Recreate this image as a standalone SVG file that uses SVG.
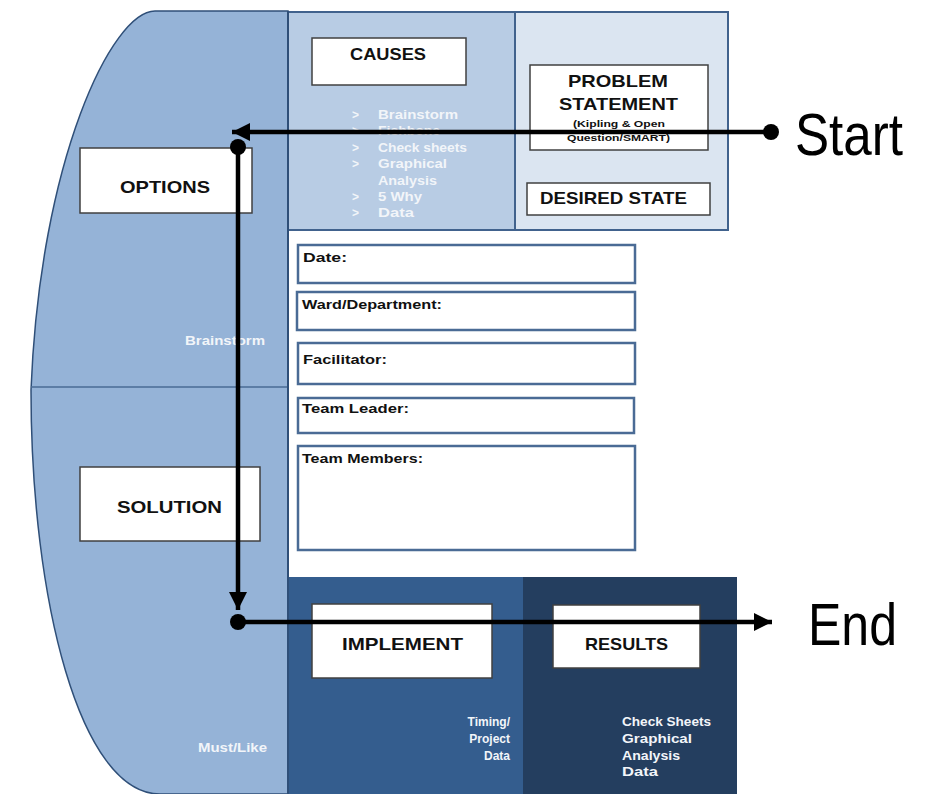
<svg xmlns="http://www.w3.org/2000/svg" width="926" height="794" viewBox="0 0 926 794">
<defs>
<style>
.lbl{font-family:"Liberation Sans",Arial,sans-serif;font-weight:bold;fill:#111;}
.big{font-size:17px;}
.wt{font-family:"Liberation Sans",Arial,sans-serif;font-weight:bold;fill:#f2f5f9;font-size:12px;}
.frm{font-family:"Liberation Sans",Arial,sans-serif;font-weight:bold;fill:#111;font-size:13px;}
.box{fill:#fff;stroke:#404040;stroke-width:1.5;}
.fbox{fill:#fff;stroke:#4a6b95;stroke-width:2.5;}
.pnl{stroke:#41628d;stroke-width:2;}
.con{stroke:#000;stroke-width:4.5;fill:none;}
.big2{font-family:"Liberation Sans",Arial,sans-serif;font-size:60px;fill:#000;}
</style>
<marker id="arr" markerUnits="userSpaceOnUse" markerWidth="20" markerHeight="18" refX="18" refY="9" orient="auto">
<path d="M0,0 L18,9 L0,18 Z" fill="#000"/>
</marker>
<marker id="dot" markerUnits="userSpaceOnUse" markerWidth="18" markerHeight="18" refX="9" refY="9" orient="auto">
<circle cx="9" cy="9" r="8" fill="#000"/>
</marker>
</defs>
<rect width="926" height="794" fill="#fff"/>

<g id="left-panel">
<path d="M155 11 C112 11 40 160 31 390 C31 600 80 794 160 794 L288 794 L288 11 Z" fill="#95b3d7" stroke="#2f4f78" stroke-width="1.5"/>
<line x1="31" y1="387" x2="288" y2="387" stroke="#4a6b95" stroke-width="1.5"/>
</g>

<g id="causes-panel">
<rect class="pnl" x="288" y="12" width="227" height="218" fill="#b8cce4"/>
</g>
<g id="problem-panel">
<rect class="pnl" x="515" y="12" width="213" height="218" fill="#dbe5f1"/>
</g>
<g id="implement-panel">
<rect x="288" y="577" width="235" height="217" fill="#345d8e"/>
</g>
<g id="results-panel">
<rect x="523" y="577" width="214" height="217" fill="#243e5f"/>
</g>
<line x1="288" y1="11" x2="288" y2="794" stroke="#2f4f78" stroke-width="2"/>

<g id="causes">
<rect class="box" x="312" y="38" width="154" height="47"/>
<text class="lbl big" x="350" y="60" textLength="76" lengthAdjust="spacingAndGlyphs">CAUSES</text>
</g>
<g id="causes-list">
<text class="wt" x="352" y="119">&gt;</text><text class="wt" x="378" y="119" textLength="80" lengthAdjust="spacingAndGlyphs">Brainstorm</text>
<text class="wt" x="352" y="135">&gt;</text><text class="wt" x="378" y="135" textLength="62" lengthAdjust="spacingAndGlyphs">Fishbone</text>
<text class="wt" x="352" y="152">&gt;</text><text class="wt" x="378" y="152" textLength="89" lengthAdjust="spacingAndGlyphs">Check sheets</text>
<text class="wt" x="352" y="168">&gt;</text><text class="wt" x="378" y="168" textLength="69" lengthAdjust="spacingAndGlyphs">Graphical</text>
<text class="wt" x="378" y="185" textLength="59" lengthAdjust="spacingAndGlyphs">Analysis</text>
<text class="wt" x="352" y="201">&gt;</text><text class="wt" x="378" y="201" textLength="44" lengthAdjust="spacingAndGlyphs">5 Why</text>
<text class="wt" x="352" y="217">&gt;</text><text class="wt" x="378" y="217" textLength="36" lengthAdjust="spacingAndGlyphs">Data</text>
</g>

<g id="problem-statement">
<rect class="box" x="530" y="65" width="178" height="85"/>
<text class="lbl big" x="568" y="87" textLength="100" lengthAdjust="spacingAndGlyphs">PROBLEM</text>
<text class="lbl big" x="559" y="110" textLength="119" lengthAdjust="spacingAndGlyphs">STATEMENT</text>
<text class="lbl" font-size="9" x="573" y="127" textLength="92" lengthAdjust="spacingAndGlyphs">(Kipling &amp; Open</text>
<text class="lbl" font-size="9" x="567" y="141" textLength="103" lengthAdjust="spacingAndGlyphs">Question/SMART)</text>
</g>

<g id="desired-state">
<rect class="box" x="527" y="183" width="183" height="32"/>
<text class="lbl big" x="540" y="204" textLength="147" lengthAdjust="spacingAndGlyphs">DESIRED STATE</text>
</g>

<g id="options">
<rect class="box" x="80" y="148" width="172" height="65"/>
<text class="lbl big" x="120" y="193" textLength="90" lengthAdjust="spacingAndGlyphs">OPTIONS</text>
<text class="wt" font-size="11" x="185" y="345" textLength="80" lengthAdjust="spacingAndGlyphs">Brainstorm</text>
</g>

<g id="solution">
<rect class="box" x="80" y="467" width="180" height="74"/>
<text class="lbl big" x="117" y="513" textLength="105" lengthAdjust="spacingAndGlyphs">SOLUTION</text>
<text class="wt" font-size="11" x="198" y="752" textLength="69" lengthAdjust="spacingAndGlyphs">Must/Like</text>
</g>

<g id="form">
<rect class="fbox" x="298" y="245" width="337" height="38"/>
<text class="frm" x="303" y="262" textLength="44" lengthAdjust="spacingAndGlyphs">Date:</text>
<rect class="fbox" x="297" y="292" width="338" height="38"/>
<text class="frm" x="302" y="309" textLength="140" lengthAdjust="spacingAndGlyphs">Ward/Department:</text>
<rect class="fbox" x="298" y="343" width="337" height="41"/>
<text class="frm" x="303" y="364" textLength="84" lengthAdjust="spacingAndGlyphs">Facilitator:</text>
<rect class="fbox" x="298" y="398" width="336" height="35"/>
<text class="frm" x="302" y="413" textLength="107" lengthAdjust="spacingAndGlyphs">Team Leader:</text>
<rect class="fbox" x="298" y="446" width="337" height="104"/>
<text class="frm" x="302" y="463" textLength="121" lengthAdjust="spacingAndGlyphs">Team Members:</text>
</g>

<g id="implement">
<rect class="box" x="312" y="604" width="180" height="74"/>
<text class="lbl big" x="342" y="650" textLength="121" lengthAdjust="spacingAndGlyphs">IMPLEMENT</text>
<text class="wt" x="510" y="726" text-anchor="end">Timing/</text>
<text class="wt" x="510" y="743" text-anchor="end">Project</text>
<text class="wt" x="510" y="760" text-anchor="end">Data</text>
</g>

<g id="results">
<rect class="box" x="553" y="605" width="147" height="63"/>
<text class="lbl big" x="585" y="650" textLength="83" lengthAdjust="spacingAndGlyphs">RESULTS</text>
<text class="wt" x="622" y="726" textLength="89" lengthAdjust="spacingAndGlyphs">Check Sheets</text>
<text class="wt" x="622" y="743" textLength="70" lengthAdjust="spacingAndGlyphs">Graphical</text>
<text class="wt" x="622" y="760" textLength="58" lengthAdjust="spacingAndGlyphs">Analysis</text>
<text class="wt" x="622" y="776" textLength="36" lengthAdjust="spacingAndGlyphs">Data</text>
</g>

<g id="connectors">
<line class="con" x1="771" y1="132" x2="232" y2="132" marker-start="url(#dot)" marker-end="url(#arr)"/>
<line class="con" x1="238" y1="147" x2="238" y2="610" marker-start="url(#dot)" marker-end="url(#arr)"/>
<line class="con" x1="238" y1="622" x2="772" y2="622" marker-start="url(#dot)" marker-end="url(#arr)"/>
</g>

<g id="start">
<text class="big2" x="795" y="155" textLength="108" lengthAdjust="spacingAndGlyphs">Start</text>
</g>
<g id="end">
<text class="big2" x="808" y="645" textLength="89" lengthAdjust="spacingAndGlyphs">End</text>
</g>
</svg>
